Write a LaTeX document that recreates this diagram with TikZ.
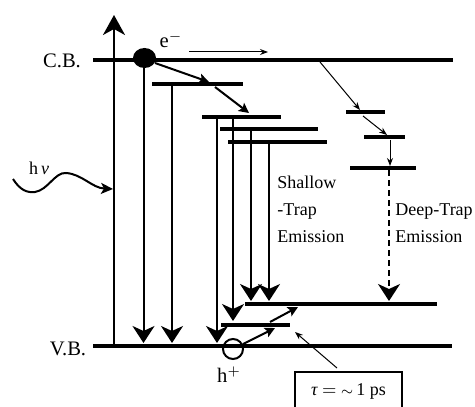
\documentclass[tikz,border=0pt]{standalone}
\usepackage{fontspec}
\setmainfont{Liberation Serif}
\usetikzlibrary{arrows.meta,shapes.geometric}
\begin{document}
\begin{tikzpicture}[x=0.5pt,y=-0.5pt,
  level/.style={line width=2pt},
  drop/.style={line width=1pt,-{Stealth[length=8.5pt,width=11pt,inset=2.5pt]}},
  axisarrow/.style={line width=1pt,-{Stealth[length=10pt,width=11pt,inset=3pt]}},
  relax/.style={line width=1pt,-{Stealth[length=5pt,width=5pt,inset=1pt]}},
  thin/.style={line width=0.5pt,-{Stealth[length=4pt,width=3pt]}},
  deep/.style={line width=1pt,dash pattern=on 3pt off 2pt,-{Stealth[length=8.5pt,width=11pt,inset=2.5pt]}},
  big/.style={font=\fontsize{10.3}{12}\selectfont},
  small/.style={font=\fontsize{9}{11}\selectfont},
  txt/.style={small,anchor=base west,inner sep=0pt}]
\useasboundingbox (0,0) rectangle (475,406);
% band edges
\coordinate (cbL) at (93,60);  \coordinate (cbR) at (453,60);
\coordinate (vbL) at (93,346); \coordinate (vbR) at (452,346);
\draw[level] (cbL) -- (cbR);
\draw[level] (vbL) -- (vbR);
\node[big] (cb) at (62,61) {C.B.};
\node[big] (vb) at (68,349) {V.B.};
% axis
\coordinate (ax0) at (114,346); \coordinate (ax1) at (114,15);
\draw[axisarrow] (ax0) -- (ax1);
% photon
\coordinate (ph0) at (13,179); \coordinate (ph1) at (113,189);
\draw[line width=1pt,-{Stealth[length=6pt,width=5.5pt,inset=1.5pt]}] (ph0) .. controls (20,190) and (27,193) .. (35,192) .. controls (48,190) and (55,172) .. (66,173) .. controls (82,174) and (92,188) .. (ph1);
\node[small] (hv) at (39,168) {h\,{\itshape ν}};
% electron
\node[ellipse,fill=black,minimum width=11.5pt,minimum height=10pt,inner sep=0pt] (e) at (144.5,58) {};
\node[big] (elab) at (171,40) {e$^{-}$};
\coordinate (t0) at (189,52); \coordinate (t1) at (268,52);
\draw[thin] (t0) -- (t1);
% shallow levels
\coordinate (l1a) at (152,84);  \coordinate (l1b) at (243,84);
\coordinate (l2a) at (202,117); \coordinate (l2b) at (281,117);
\coordinate (l3a) at (220,129); \coordinate (l3b) at (318,129);
\coordinate (l4a) at (228,142); \coordinate (l4b) at (327,142);
\coordinate (l5a) at (221,325); \coordinate (l5b) at (290,325);
\coordinate (l6a) at (245,304); \coordinate (l6b) at (437,304);
\foreach \a/\b in {l1a/l1b,l2a/l2b,l3a/l3b,l4a/l4b,l5a/l5b,l6a/l6b} \draw[level] (\a) -- (\b);
% relaxation arrows
\coordinate (r0) at (155,63);  \coordinate (r1) at (209,82);
\coordinate (r2) at (215,87);  \coordinate (r3) at (249,113);
\draw[relax] (r0) -- (r1);
\draw[relax] (r2) -- (r3);
% emission drops
\coordinate (d0a) at (143.5,67) ; \coordinate (d0b) at (143.5,343);
\coordinate (d1a) at (172,84);  \coordinate (d1b) at (172,343);
\coordinate (d2a) at (217,117); \coordinate (d2b) at (217,343);
\coordinate (d3a) at (233,117); \coordinate (d3b) at (233,321);
\coordinate (d4a) at (251,129); \coordinate (d4b) at (251,301);
\coordinate (d5a) at (269,142); \coordinate (d5b) at (269,301);
\foreach \a/\b in {d0a/d0b,d1a/d1b,d2a/d2b,d3a/d3b,d4a/d4b,d5a/d5b} \draw[drop] (\a) -- (\b);
% deep traps
\coordinate (k1a) at (346,112); \coordinate (k1b) at (385,112);
\coordinate (k2a) at (364,137); \coordinate (k2b) at (405,137);
\coordinate (k3a) at (350,168); \coordinate (k3b) at (416,168);
\foreach \a/\b in {k1a/k1b,k2a/k2b,k3a/k3b} \draw[level] (\a) -- (\b);
\coordinate (s0) at (320,62);  \coordinate (s1) at (360,110);
\coordinate (s2) at (363,116); \coordinate (s3) at (387,135);
\coordinate (s4) at (390,140); \coordinate (s5) at (390,166);
\draw[thin] (s0) -- (s1);
\draw[thin] (s2) -- (s3);
\draw[thin] (s4) -- (s5);
\coordinate (dp0) at (389,170); \coordinate (dp1) at (389,301);
\draw[deep] (dp0) -- (dp1);
% texts
\node[txt] (sh1) at (277,188) {Shallow};
\node[txt] (sh2) at (277,215) {-Trap};
\node[txt] (sh3) at (277,242) {Emission};
\node[txt] (dt1) at (395,215) {Deep-Trap};
\node[txt] (dt2) at (395,242) {Emission};
% hole
\node[circle,draw,line width=1pt,minimum size=10pt,inner sep=0pt] (h) at (233,349) {};
\node[big] (hlab) at (229,375) {h$^{+}$};
\coordinate (p1) at (275,328);
\coordinate (p2) at (270,322); \coordinate (p3) at (298,307);
\draw[relax] (h) -- (p1);
\draw[relax] (p2) -- (p3);
% tau box
\node[draw,line width=0.6pt,minimum width=53.5pt,minimum height=19pt,small] (tau) at (348.5,391) {{\itshape τ} $=$ {\scriptsize$\sim$}\,1 ps};
\coordinate (ta0) at (337,368);
\coordinate (ta1) at (295,332);
\draw[thin] (ta0) -- (ta1);
\end{tikzpicture}
\end{document}
